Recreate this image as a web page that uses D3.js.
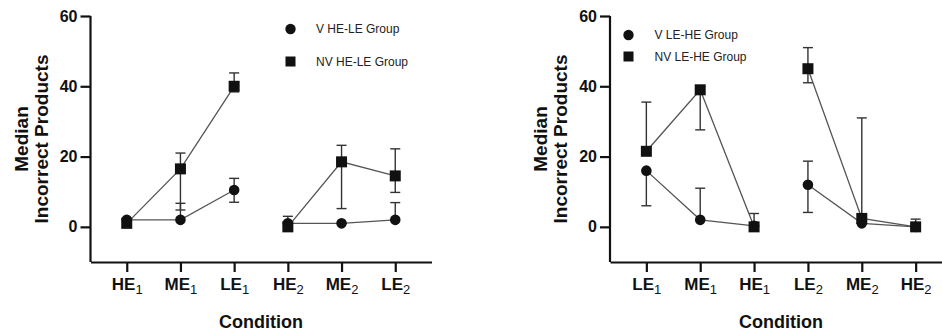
<!DOCTYPE html>
<html>
<head>
<meta charset="utf-8">
<script src="https://cdn.jsdelivr.net/npm/d3@7"></script>
<style>
  body { margin: 0; background: #fff; }
  svg text { font-family: "Liberation Sans", Arial, sans-serif; }
</style>
</head>
<body>
<div id="chart"></div>
<script>
// tick values shared by both panels
var yTicks = [0, 20, 40, 60];

// left panel: HE-LE groups
var leftCats = ["HE1", "ME1", "LE1", "HE2", "ME2", "LE2"];
var leftNames = ["V HE-LE Group", "NV HE-LE Group"];
var leftV = [2, 2, 10.5, 1, 1, 2];
var leftVLo = [2, 2, 7, 1, 1, 2];
var leftVHi = [2, 6.7, 13.8, 1, 1, 6.9];
var leftNV = [1, 16.5, 40, 0, 18.5, 14.5];
var leftNVLo = [1, 4.8, 38.4, 0, 5.2, 9.8];
var leftNVHi = [1, 21, 43.8, 3, 23.2, 22.2];

// right panel: LE-HE groups
var rightCats = ["LE1", "ME1", "HE1", "LE2", "ME2", "HE2"];
var rightNames = ["V LE-HE Group", "NV LE-HE Group"];
var rightV = [16, 2, 0.3, 12, 1, 0];
var rightVLo = [6, 2, 0.3, 4.1, 1, 0];
var rightVHi = [16, 11, 0.3, 18.7, 1, 0];
var rightNV = [21.5, 39, 0, 45, 2.4, 0];
var rightNVLo = [21.5, 27.6, 0, 41, 2.4, 0];
var rightNVHi = [35.5, 40, 3.8, 51, 31, 2.2];

var W = 942, H = 335;
var svg = d3.select("#chart").append("svg")
  .attr("width", W)
  .attr("height", H);

function series(vals, lo, hi) {
  return vals.map(function(v, i) { return {i: i, v: v, lo: lo[i], hi: hi[i]}; });
}

function drawPanel(cfg) {
  var x0 = cfg.x0, x1 = cfg.x1,
      yTop = 16, yBot = 262;

  var x = d3.scalePoint().domain(cfg.cats).range([x0, x1]).padding(0.675);
  var y = d3.scaleLinear().domain([-10, 60]).range([yBot, yTop]);

  var g = svg.append("g");

  // axes
  var yAxis = g.append("g")
    .attr("transform", "translate(" + x0 + ",0)")
    .call(d3.axisLeft(y).tickValues(yTicks).tickSize(10).tickSizeOuter(0).tickPadding(3));
  var xAxis = g.append("g")
    .attr("transform", "translate(0," + yBot + ")")
    .call(d3.axisBottom(x).tickSize(10).tickSizeOuter(0).tickPadding(6).tickFormat(""));

  [yAxis, xAxis].forEach(function(a) {
    a.select(".domain").attr("stroke", "#111").attr("stroke-width", 2.2);
    a.selectAll(".tick line").attr("stroke", "#111").attr("stroke-width", 2.2);
  });
  yAxis.select(".domain").attr("d", "M0," + yTop + "V" + yBot);
  yAxis.selectAll(".tick text")
    .attr("fill", "#111")
    .style("font-size", "16px")
    .style("font-weight", "bold");

  // x tick labels with subscripts
  var xt = xAxis.selectAll(".tick text")
    .attr("fill", "#111")
    .attr("y", 16)
    .attr("dy", "0.71em")
    .style("font-size", "17px")
    .style("font-weight", "bold");
  xt.each(function(d) {
    var t = d3.select(this);
    t.text(null).attr("text-anchor", "middle");
    t.append("tspan").text(d.slice(0, -1));
    t.append("tspan")
      .attr("dy", 4)
      .style("font-size", "13px")
      .style("font-weight", "normal")
      .text(d.slice(-1));
  });

  // axis titles
  var cy = (yTop + yBot) / 2;
  g.append("text")
    .attr("transform", "translate(" + (x0 - 63) + "," + cy + ") rotate(-90)")
    .attr("text-anchor", "middle")
    .attr("fill", "#111")
    .style("font-size", "19px")
    .style("font-weight", "bold")
    .text("Median");
  g.append("text")
    .attr("transform", "translate(" + (x0 - 43) + "," + cy + ") rotate(-90)")
    .attr("text-anchor", "middle")
    .attr("fill", "#111")
    .style("font-size", "19px")
    .style("font-weight", "bold")
    .text("Incorrect Products");
  g.append("text")
    .attr("x", (x0 + x1) / 2)
    .attr("y", 328)
    .attr("text-anchor", "middle")
    .attr("fill", "#111")
    .style("font-size", "18px")
    .style("font-weight", "bold")
    .text("Condition");

  var line = d3.line()
    .x(function(d) { return x(cfg.cats[d.i]); })
    .y(function(d) { return y(d.v); });

  cfg.groups.forEach(function(s) {
    // error bars
    var eb = g.append("g").selectAll("g")
      .data(s.data)
      .enter().append("g")
      .attr("stroke", "#333")
      .attr("stroke-width", 1.4);
    eb.append("line")
      .attr("x1", function(d) { return x(cfg.cats[d.i]); })
      .attr("x2", function(d) { return x(cfg.cats[d.i]); })
      .attr("y1", function(d) { return y(d.lo); })
      .attr("y2", function(d) { return y(d.hi); });
    eb.filter(function(d) { return d.hi > d.v; }).append("line")
      .attr("x1", function(d) { return x(cfg.cats[d.i]) - 5; })
      .attr("x2", function(d) { return x(cfg.cats[d.i]) + 5; })
      .attr("y1", function(d) { return y(d.hi); })
      .attr("y2", function(d) { return y(d.hi); });
    eb.filter(function(d) { return d.lo < d.v; }).append("line")
      .attr("x1", function(d) { return x(cfg.cats[d.i]) - 5; })
      .attr("x2", function(d) { return x(cfg.cats[d.i]) + 5; })
      .attr("y1", function(d) { return y(d.lo); })
      .attr("y2", function(d) { return y(d.lo); });

    // connecting lines, one per session block
    [s.data.slice(0, 3), s.data.slice(3, 6)].forEach(function(part) {
      g.append("path")
        .datum(part)
        .attr("fill", "none")
        .attr("stroke", "#555")
        .attr("stroke-width", 1.3)
        .attr("d", line);
    });
  });

  cfg.groups.forEach(function(s) {
    var pts = g.append("g").selectAll(".pt")
      .data(s.data)
      .enter();
    if (s.shape === "circle") {
      pts.append("circle")
        .attr("cx", function(d) { return x(cfg.cats[d.i]); })
        .attr("cy", function(d) { return y(d.v); })
        .attr("r", 5.3)
        .attr("fill", "#111");
    } else {
      pts.append("rect")
        .attr("x", function(d) { return x(cfg.cats[d.i]) - 5.5; })
        .attr("y", function(d) { return y(d.v) - 5.5; })
        .attr("width", 11)
        .attr("height", 11)
        .attr("fill", "#111");
    }
  });

  // legend
  var leg = g.append("g").selectAll("g")
    .data(cfg.groups)
    .enter().append("g")
    .attr("transform", function(d, i) {
      return "translate(" + cfg.legX + "," + cfg.legY[i] + ")";
    });
  leg.filter(function(d) { return d.shape === "circle"; }).append("circle")
    .attr("r", 5.2).attr("fill", "#111");
  leg.filter(function(d) { return d.shape !== "circle"; }).append("rect")
    .attr("x", -5).attr("y", -5).attr("width", 10).attr("height", 10).attr("fill", "#111");
  leg.append("text")
    .attr("x", cfg.legTextDx)
    .attr("dy", "0.35em")
    .attr("fill", "#222")
    .style("font-size", "12px")
    .text(function(d) { return d.name; });
}

drawPanel({
  x0: 90.5, x1: 431.5,
  cats: leftCats,
  legX: 290.5, legY: [29, 61.5], legTextDx: 25.5,
  groups: [
    {name: leftNames[0], shape: "circle", data: series(leftV, leftVLo, leftVHi)},
    {name: leftNames[1], shape: "square", data: series(leftNV, leftNVLo, leftNVHi)}
  ]
});

drawPanel({
  x0: 610, x1: 952,
  cats: rightCats,
  legX: 628.5, legY: [35, 56.5], legTextDx: 26,
  groups: [
    {name: rightNames[0], shape: "circle", data: series(rightV, rightVLo, rightVHi)},
    {name: rightNames[1], shape: "square", data: series(rightNV, rightNVLo, rightNVHi)}
  ]
});
</script>
</body>
</html>
